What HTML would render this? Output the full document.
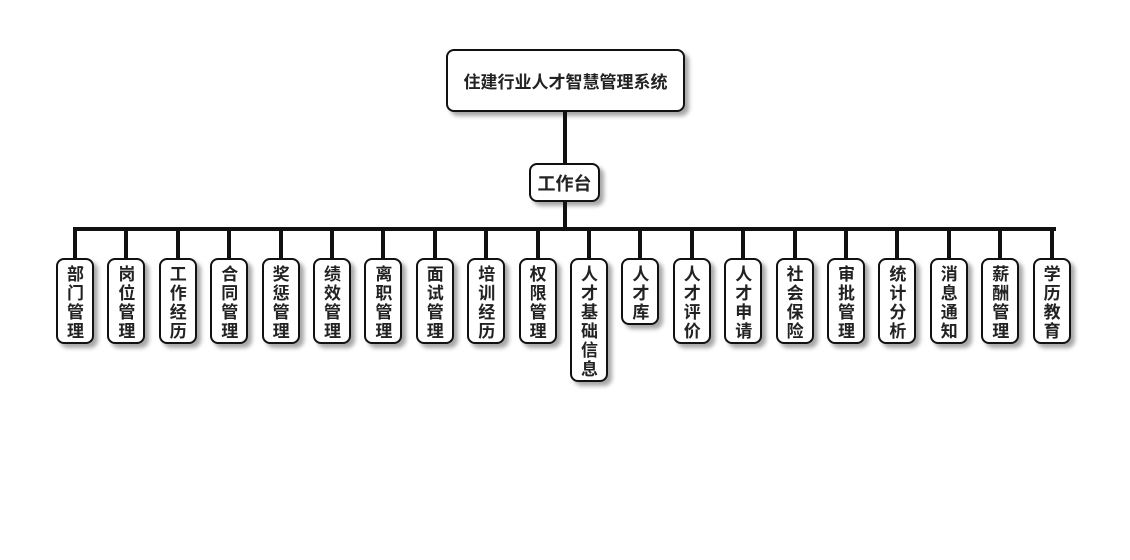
<!DOCTYPE html>
<html><head><meta charset="utf-8"><style>
body{margin:0;width:1130px;height:560px;background:#fff;position:relative;overflow:hidden;font-family:"Liberation Sans","Noto Sans CJK SC",sans-serif;font-weight:bold;color:#222}
.b{position:absolute;background:#fff;border:2px solid #111;border-radius:8px;box-shadow:4px 4px 4px rgba(0,0,0,.35);box-sizing:border-box;display:flex;justify-content:center;align-items:center}
.l{position:absolute;background:#111}
.c{width:38px;top:258px;font-size:17px;line-height:19px;display:block;text-align:center;padding:5px 9px 0 9px;word-break:break-all}
</style></head><body>
<div class="b" style="left:446px;top:49px;width:239px;height:63px;font-size:17px">住建行业人才智慧管理系统</div>
<div class="l" style="left:563px;top:112px;width:4px;height:51px"></div>
<div class="b" style="left:529px;top:163px;width:71px;height:39px;font-size:18px">工作台</div>
<div class="l" style="left:563px;top:202px;width:4px;height:27px"></div>
<div class="l" style="left:73px;top:227px;width:983px;height:4px"></div>
<div id="k"></div>
<script>
var n=["部门管理","岗位管理","工作经历","合同管理","奖惩管理","绩效管理","离职管理","面试管理","培训经历","权限管理","人才基础信息","人才库","人才评价","人才申请","社会保险","审批管理","统计分析","消息通知","薪酬管理","学历教育"];
var h="";
for(var i=0;i<20;i++){var cx=75+i*51.4;var ht=n[i].length*19+10;
h+='<div class="l" style="left:'+(cx-2)+'px;top:229px;width:4px;height:29px"></div>';
h+='<div class="b c" style="left:'+(cx-19)+'px;height:'+ht+'px">'+n[i]+'</div>';}
document.getElementById("k").innerHTML=h;
</script>
</body></html>
